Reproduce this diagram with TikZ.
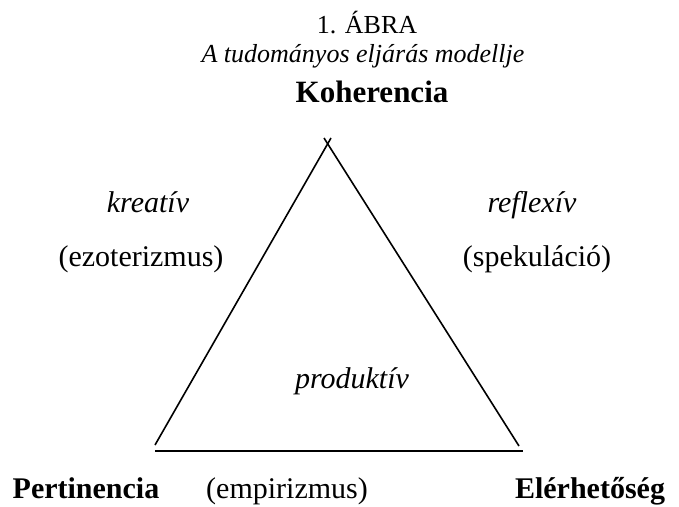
\documentclass[tikz,border=0pt]{standalone}
\usepackage{fontspec}
\setmainfont{Liberation Serif}
\begin{document}
\begin{tikzpicture}[x=1pt,y=-1pt,
  lbl/.style={inner sep=0pt,anchor=base,font=\fontsize{30}{34}\selectfont},
  ilbl/.style={lbl,font=\fontsize{30}{34}\selectfont\itshape},
  blbl/.style={lbl,font=\fontsize{30}{34}\selectfont\bfseries},
  edge/.style={line width=1.6pt}]
\useasboundingbox (0,0) rectangle (679,506);
\node[lbl,font=\fontsize{26}{30}\selectfont] (fig) at (367,33) {1. ÁBRA};
\node[ilbl,font=\fontsize{26}{30}\selectfont\itshape] (title) at (363,62) {A tudományos eljárás modellje};
\node[blbl,font=\fontsize{31}{36}\selectfont\bfseries] (koh) at (372,102) {Koherencia};
\node[ilbl] (kre) at (148,212) {kreatív};
\node[lbl] (ezo) at (141,266) {(ezoterizmus)};
\node[ilbl] (ref) at (532,212) {reflexív};
\node[lbl] (spe) at (537,266) {(spekuláció)};
\node[ilbl] (pro) at (352,388) {produktív};
\node[blbl] (per) at (86,498) {Pertinencia};
\node[lbl] (emp) at (287,498) {(empirizmus)};
\node[blbl] (ele) at (590,498) {Elérhetőség};
\coordinate (L1) at (155,445);
\coordinate (L2) at (331,138);
\coordinate (R1) at (324,138);
\coordinate (R2) at (519,446);
\coordinate (B1) at (155,451);
\coordinate (B2) at (523,451);
\draw[edge] (L1) -- (L2);
\draw[edge] (R1) -- (R2);
\draw[edge] (B1) -- (B2);
\end{tikzpicture}
\end{document}
